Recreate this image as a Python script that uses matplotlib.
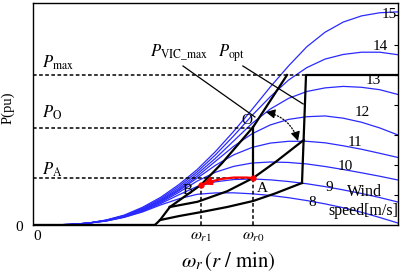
import numpy as np
import matplotlib
matplotlib.use("Agg")
import matplotlib.pyplot as plt
from matplotlib.patches import FancyArrowPatch

plt.rcParams['font.family'] = ['Liberation Serif', 'DejaVu Serif']
plt.rcParams['mathtext.fontset'] = 'stix'

# ---------------- data ----------------
speed_grid = [5, 10, 15, 20, 25, 30, 35, 40, 45, 50, 55, 60, 65, 70, 75, 80, 85, 90, 95, 100]
p_w15 = [0.0004, 0.0036, 0.012, 0.033, 0.066, 0.118, 0.185, 0.27, 0.37, 0.49, 0.625, 0.77, 0.92, 1.06, 1.188, 1.285, 1.353, 1.394, 1.415, 1.421]
p_w14 = [0.0005, 0.0036, 0.0122, 0.032, 0.063, 0.112, 0.176, 0.258, 0.355, 0.468, 0.595, 0.73, 0.855, 0.966, 1.049, 1.106, 1.137, 1.152, 1.152, 1.135]
p_w13 = [0.0005, 0.0036, 0.0122, 0.031, 0.061, 0.107, 0.168, 0.246, 0.34, 0.445, 0.561, 0.677, 0.773, 0.844, 0.89, 0.914, 0.924, 0.918, 0.902, 0.87]
p_w12 = [0.0004, 0.0036, 0.0121, 0.030, 0.059, 0.103, 0.162, 0.236, 0.325, 0.425, 0.525, 0.608, 0.667, 0.704, 0.722, 0.727, 0.712, 0.685, 0.647, 0.60]
p_w11 = [0.0004, 0.0036, 0.0122, 0.029, 0.057, 0.099, 0.156, 0.229, 0.313, 0.398, 0.468, 0.517, 0.546, 0.558, 0.558, 0.548, 0.528, 0.505, 0.478, 0.45]
p_w10 = [0.0005, 0.0036, 0.0122, 0.028, 0.055, 0.095, 0.150, 0.218, 0.293, 0.352, 0.391, 0.413, 0.42, 0.417, 0.407, 0.39, 0.37, 0.348, 0.325, 0.30]
p_w9 = [0.0005, 0.0036, 0.0121, 0.027, 0.053, 0.091, 0.143, 0.202, 0.257, 0.288, 0.303, 0.307, 0.301, 0.29, 0.275, 0.256, 0.234, 0.21, 0.183, 0.153]
p_w8 = [0.0005, 0.0036, 0.0122, 0.026, 0.051, 0.087, 0.134, 0.175, 0.2047, 0.214, 0.2144, 0.208, 0.197, 0.182, 0.163, 0.141, 0.115, 0.085, 0.05, 0.013]
wind_labels = ['8', '9', '10', '11', '12', '13', '14', '15']
wind_label_x = [76.4, 81.1, 85.5, 88.2, 90.1, 93.2, 95.1, 97.5]
wind_label_y = [0.153, 0.253, 0.393, 0.547, 0.753, 0.96, 1.193, 1.40]

p_max = 1.0
p_o = 0.65
p_a = 0.313
w_r1 = 46.0
w_r0 = 60.3
p_b = 0.267
p_o_curve = 0.653

cutin_x = [0, 33.4]
cutin_y = [0, 0]
ramp_x = [33.4, 34.8, 37.5]
ramp_y = [0, 0.033, 0.12]
vic_x = [37.5, 46.0, 51.7, 60.3, 69.6]
vic_y = [0.12, 0.267, 0.41, 0.653, 1.0]
opt_x = [37.5, 45.1, 53.2, 60.3, 66.5, 74.2]
opt_y = [0.12, 0.155, 0.225, 0.313, 0.421, 0.567]
low_x = [34.8, 40.1, 45.8, 53.2, 60.3, 66.3, 73.7]
low_y = [0.033, 0.06, 0.085, 0.12, 0.16, 0.21, 0.28]
limit_x = [73.7, 74.8, 100]
limit_y = [0.28, 1.0, 1.0]

# ---------------- figure ----------------
fig = plt.figure(figsize=(4.01, 2.73), dpi=100)
ax = fig.add_axes([33 / 401, 48 / 273, 365 / 401, 222 / 273])
ax.set_xlim(0, 100)
ax.set_ylim(0, 1.48)

blue = '#2a2aff'
for ys in [p_w8, p_w9, p_w10, p_w11, p_w12, p_w13, p_w14, p_w15]:
    ax.plot(speed_grid, ys, color=blue, lw=0.9, zorder=1)
for lab, lx, ly in zip(wind_labels, wind_label_x, wind_label_y):
    ax.text(lx, ly, lab, fontsize=11, ha='center', va='center', zorder=5)
ax.text(90.7, 0.22, 'Wind', fontsize=11.5, ha='center', va='center', zorder=5)
ax.text(90.4, 0.093, 'speed[m/s]', fontsize=11.5, ha='center', va='center', zorder=5)

dash = (0, (2.4, 1.6))
ax.plot([0, 74.8], [p_max, p_max], color='k', lw=1.1, ls=dash, zorder=2)
ax.plot([0, w_r0], [p_o, p_o], color='k', lw=1.1, ls=dash, zorder=2)
ax.plot([0, w_r0], [p_a, p_a], color='k', lw=1.1, ls=dash, zorder=2)
ax.plot([w_r1, w_r1], [0, p_b], color='k', lw=1.1, ls=dash, zorder=2)
ax.plot([w_r0, w_r0], [0, p_a], color='k', lw=1.1, ls=dash, zorder=2)

lwk = 1.6
ax.plot(cutin_x, cutin_y, color='k', lw=2.4, zorder=3, solid_capstyle='butt')
ax.plot(ramp_x, ramp_y, color='k', lw=lwk, zorder=3)
ax.plot(vic_x, vic_y, color='k', lw=lwk, zorder=3)
ax.plot(opt_x, opt_y, color='k', lw=lwk, zorder=3)
ax.plot(low_x, low_y, color='k', lw=lwk, zorder=3)
ax.plot(limit_x, limit_y, color='k', lw=lwk, zorder=3)
ax.plot([w_r0, w_r0], [p_a, p_o_curve], color='k', lw=lwk, zorder=3)

# red arrow A -> B
ax.annotate('', xy=(w_r1, p_b), xytext=(w_r0, p_a),
            arrowprops=dict(arrowstyle='-|>,head_length=0.5,head_width=0.22', color='red', lw=1.6,
                            connectionstyle='arc3,rad=0.12', shrinkA=0, shrinkB=1), zorder=4)
ax.plot([w_r0, w_r1], [p_a, p_b], 'o', color='red', ms=3.5, zorder=5)

# dotted arc with heads
s_pt = (63.8, 0.753)
e_pt = (72.6, 0.56)
arc = FancyArrowPatch(s_pt, e_pt, connectionstyle='arc3,rad=-0.3', arrowstyle='-',
                      linestyle=(0, (1, 1.5)), lw=0.9, color='k', zorder=4)
ax.add_patch(arc)
ax.annotate('', xy=s_pt, xytext=(5, -1), textcoords='offset points',
            arrowprops=dict(arrowstyle='-|>,head_length=0.55,head_width=0.28', color='k', lw=0.8,
                            shrinkA=0, shrinkB=0), zorder=4)
ax.annotate('', xy=e_pt, xytext=(-1.5, 5), textcoords='offset points',
            arrowprops=dict(arrowstyle='-|>,head_length=0.55,head_width=0.28', color='k', lw=0.8,
                            shrinkA=0, shrinkB=0), zorder=4)

# pointer lines
ax.plot([41.1, 60.8], [1.06, 0.72], color='k', lw=0.9, zorder=4)
ax.plot([57.5, 74.0], [1.06, 0.807], color='k', lw=0.9, zorder=4)

# labels
ax.text(32.1, 1.12, r'$P_{\mathrm{VIC\_max}}$', fontsize=12, ha='left', va='baseline')
ax.text(50.7, 1.12, r'$P_{\mathrm{opt}}$', fontsize=12, ha='left', va='baseline')
ax.text(2.5, 1.047, r'$P_{\mathrm{max}}$', fontsize=12, ha='left', va='baseline')
ax.text(2.5, 0.713, r'$P_{\mathrm{O}}$', fontsize=12, ha='left', va='baseline')
ax.text(2.5, 0.333, r'$P_{\mathrm{A}}$', fontsize=12, ha='left', va='baseline')
ax.text(58.7, 0.70, 'O', fontsize=11, ha='center', va='center', zorder=5)
ax.text(62.8, 0.24, 'A', fontsize=11, ha='center', va='center', zorder=5)
ax.text(42.4, 0.227, 'B', fontsize=11, ha='center', va='center', zorder=5)

ax.text(-2.7, -0.015, '0', fontsize=11, ha='right', va='center', clip_on=False)
ax.text(1.2, -0.077, '0', fontsize=11, ha='center', va='center', clip_on=False)
ax.text(w_r1, -0.074, r'$\omega_{r1}$', fontsize=11.5, ha='center', va='center', clip_on=False)
ax.text(w_r0, -0.074, r'$\omega_{r0}$', fontsize=11.5, ha='center', va='center', clip_on=False)
ax.text(53.4, -0.247, r'$\omega_r\,(r\ /\ \mathrm{min})$', fontsize=15, ha='center', va='center', clip_on=False)
fig.text(8 / 401, 1 - 108 / 273, 'P(pu)', fontsize=10.5, rotation=90, ha='center', va='center')

ax.set_xticks([])
ax.yaxis.set_ticks_position('right')
ax.set_yticks([0.2, 0.4, 0.6, 0.8, 1.0, 1.2, 1.4])
ax.tick_params(axis='y', direction='in', length=3, width=0.8, labelright=False, labelleft=False)
for sp in ax.spines.values():
    sp.set_linewidth(1.0)

fig.savefig('out.png', dpi=100)
